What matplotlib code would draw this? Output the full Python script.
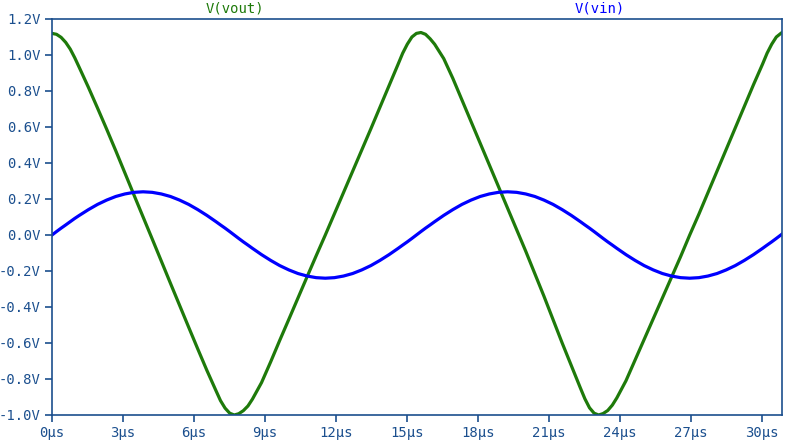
import matplotlib
matplotlib.use('Agg')
import matplotlib.pyplot as plt
from matplotlib.ticker import FuncFormatter

# Tiempo en microsegundos (mas denso cerca de los picos)
t_us = [0.0, 0.19, 0.385, 0.58, 0.77, 0.96, 1.155, 1.54, 1.925, 2.31,
        2.695, 3.08, 3.465, 3.85, 4.235, 4.62, 5.005, 5.39, 5.775, 6.16,
        6.545, 6.93, 7.12, 7.315, 7.51, 7.7, 7.89, 8.085, 8.28, 8.47,
        8.855, 9.24, 9.625, 10.01, 10.395, 10.78, 11.165, 11.55, 11.935, 12.32,
        12.705, 13.09, 13.475, 13.86, 14.245, 14.63, 14.82, 15.015, 15.21, 15.4,
        15.59, 15.785, 15.98, 16.17, 16.555, 16.94, 17.325, 17.71, 18.095, 18.48,
        18.865, 19.25, 19.635, 20.02, 20.405, 20.79, 21.175, 21.56, 21.945, 22.33,
        22.52, 22.715, 22.91, 23.1, 23.29, 23.485, 23.68, 23.87, 24.255, 24.64,
        25.025, 25.41, 25.795, 26.18, 26.565, 26.95, 27.335, 27.72, 28.105, 28.49,
        28.875, 29.26, 29.645, 30.03, 30.22, 30.415, 30.61, 30.8, 30.85]

v_out = [1.12, 1.115, 1.098, 1.07, 1.033, 0.985, 0.93, 0.82, 0.705, 0.588,
         0.468, 0.345, 0.222, 0.10, -0.022, -0.145, -0.268, -0.39, -0.512, -0.633,
         -0.752, -0.865, -0.92, -0.962, -0.99, -1.0, -0.993, -0.976, -0.95, -0.912,
         -0.82, -0.705, -0.585, -0.468, -0.35, -0.232, -0.115, 0.0, 0.118, 0.236,
         0.354, 0.472, 0.59, 0.71, 0.83, 0.95, 1.01, 1.06, 1.10, 1.12,
         1.125, 1.115, 1.09, 1.06, 0.98, 0.87, 0.75, 0.63, 0.51, 0.39,
         0.27, 0.15, 0.03, -0.09, -0.215, -0.34, -0.47, -0.60, -0.725, -0.85,
         -0.91, -0.96, -0.99, -1.0, -0.992, -0.975, -0.945, -0.905, -0.81, -0.695,
         -0.58, -0.465, -0.35, -0.235, -0.12, 0.0, 0.115, 0.235, 0.355, 0.475,
         0.595, 0.715, 0.835, 0.95, 1.01, 1.06, 1.10, 1.12, 1.125]

v_in = [0.0, 0.019, 0.038, 0.056, 0.074, 0.092, 0.109, 0.141, 0.170, 0.194,
        0.214, 0.228, 0.237, 0.240, 0.237, 0.228, 0.214, 0.194, 0.170, 0.141,
        0.109, 0.074, 0.056, 0.038, 0.019, 0.0, -0.019, -0.038, -0.056, -0.074,
        -0.109, -0.141, -0.170, -0.194, -0.214, -0.228, -0.237, -0.240, -0.237, -0.228,
        -0.214, -0.194, -0.170, -0.141, -0.109, -0.074, -0.056, -0.038, -0.019, 0.0,
        0.019, 0.038, 0.056, 0.074, 0.109, 0.141, 0.170, 0.194, 0.214, 0.228,
        0.237, 0.240, 0.237, 0.228, 0.214, 0.194, 0.170, 0.141, 0.109, 0.074,
        0.056, 0.038, 0.019, 0.0, -0.019, -0.038, -0.056, -0.074, -0.109, -0.141,
        -0.170, -0.194, -0.214, -0.228, -0.237, -0.240, -0.237, -0.228, -0.214, -0.194,
        -0.170, -0.141, -0.109, -0.074, -0.056, -0.038, -0.019, 0.0, 0.005]

x_ticks = [0, 3, 6, 9, 12, 15, 18, 21, 24, 27, 30]
y_ticks = [-1.0, -0.8, -0.6, -0.4, -0.2, 0.0, 0.2, 0.4, 0.6, 0.8, 1.0, 1.2]

axis_color = '#1b4f8e'
green = '#1e7a0a'
blue = '#0000ff'

plt.rcParams['font.family'] = ['DejaVu Sans Mono']

fig = plt.figure(figsize=(8, 4.46), dpi=100)
ax = fig.add_axes([52 / 800, 31 / 446, 730 / 800, 396 / 446])

ax.plot(t_us, v_out, color=green, lw=2.3, solid_joinstyle='round')
ax.plot(t_us, v_in, color=blue, lw=2.3, solid_joinstyle='round')

ax.set_xlim(0, 30.85)
ax.set_ylim(-1.0, 1.2)
ax.set_xticks(x_ticks)
ax.set_yticks(y_ticks)
ax.xaxis.set_major_formatter(FuncFormatter(lambda v, p: f'{v:.0f}µs'))
ax.yaxis.set_major_formatter(FuncFormatter(lambda v, p: f'{v:.1f}V'))

for s in ax.spines.values():
    s.set_color(axis_color)
    s.set_linewidth(1.2)
ax.tick_params(axis='both', direction='out', length=5, width=1.2,
               color=axis_color, labelcolor=axis_color, labelsize=10, pad=3)

ax.text(0.25, 1.008, 'V(vout)', transform=ax.transAxes, ha='center', va='bottom',
        color=green, fontsize=10)
ax.text(0.75, 1.008, 'V(vin)', transform=ax.transAxes, ha='center', va='bottom',
        color=blue, fontsize=10)

fig.savefig('out.png', dpi=100)
